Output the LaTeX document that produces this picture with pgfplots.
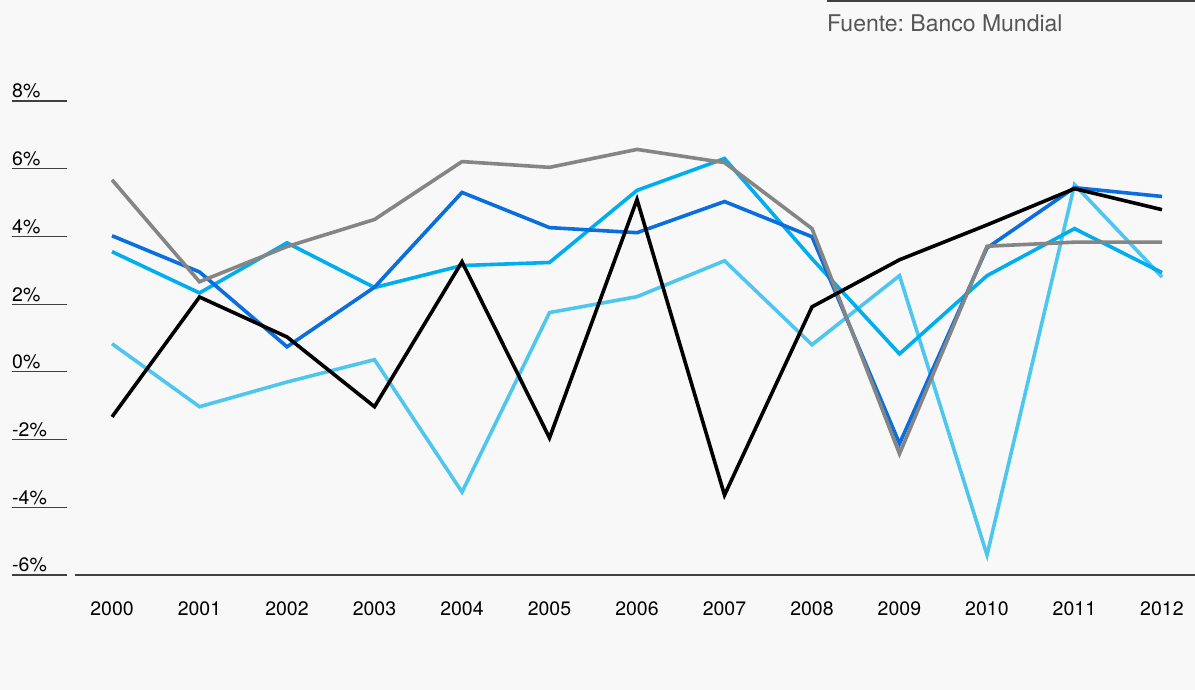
\documentclass[border=0pt]{standalone}
\usepackage{fontspec}
\setmainfont{TeX Gyre Heros}
\usepackage{pgfplots}
\pgfplotsset{compat=1.18}

\definecolor{bgc}{HTML}{F8F8F8}
\definecolor{sgray}{HTML}{858585}
\definecolor{sblue}{HTML}{0A6EDF}
\definecolor{scyan}{HTML}{00AEEF}
\definecolor{slight}{HTML}{4FC6F0}
\definecolor{srcgray}{HTML}{555555}

\begin{document}
\frenchspacing
\begin{tikzpicture}[x=1pt,y=1pt]
\useasboundingbox (0,0) rectangle (1195,690);
\fill[bgc] (0,0) rectangle (1195,690);
% source line
\draw[black!75, line width=1.3pt] (827,689) -- (1195,689);
\node[anchor=base west, inner sep=0pt, text=srcgray, font=\fontsize{23}{27}\selectfont] at (827,658) {Fuente: Banco Mundial};

\begin{axis}[
  at={(75pt,115pt)}, anchor=south west,
  scale only axis,
  width=1120pt, height=474pt,
  xmin=1999.577, xmax=2012.377,
  ymin=-6, ymax=8,
  axis x line*=bottom,
  axis y line*=left,
  y axis line style={draw=none},
  x axis line style={black!75, line width=1.2pt},
  major tick length=0pt,
  xtick={2000,...,2012},
  ytick={-6,-4,...,8},
  yticklabels={-6\%,-4\%,-2\%,0\%,2\%,4\%,6\%,8\%},
  /pgf/number format/1000 sep={},
  /pgf/number format/assume math mode=true,
  tick label style={font=\fontsize{19.5}{23}\selectfont, text=black},
  xticklabel style={anchor=north, inner sep=0pt, yshift=-26pt},
  yticklabel style={anchor=base west, inner sep=0pt, xshift=-63pt, yshift=3pt},
  clip=false,
  every axis plot/.append style={line width=3.6pt, line join=miter, no markers},
]
\pgfplotsinvokeforeach{-6,-4,...,8}{
  \draw[black!75, line width=1.2pt] ([xshift=-63pt]axis cs:1999.577,#1) -- ([xshift=-8pt]axis cs:1999.577,#1);
}
% light sky blue
\addplot[slight] coordinates {(2000,0.83) (2001,-1.03) (2002,-0.3) (2003,0.36) (2004,-3.55) (2005,1.75) (2006,2.22) (2007,3.28) (2008,0.8) (2009,2.84) (2010,-5.41) (2011,5.53) (2012,2.8)};
% cyan
\addplot[scyan] coordinates {(2000,3.55) (2001,2.33) (2002,3.81) (2003,2.49) (2004,3.14) (2005,3.23) (2006,5.36) (2007,6.3) (2008,3.34) (2009,0.53) (2010,2.84) (2011,4.23) (2012,2.93)};
% blue
\addplot[sblue] coordinates {(2000,4.02) (2001,2.95) (2002,0.74) (2003,2.5) (2004,5.3) (2005,4.26) (2006,4.11) (2007,5.03) (2008,3.99) (2009,-2.12) (2010,3.66) (2011,5.44) (2012,5.18)};
% gray
\addplot[sgray] coordinates {(2000,5.67) (2001,2.66) (2002,3.7) (2003,4.5) (2004,6.21) (2005,6.04) (2006,6.57) (2007,6.18) (2008,4.23) (2009,-2.42) (2010,3.71) (2011,3.83) (2012,3.83)};
% black
\addplot[black] coordinates {(2000,-1.33) (2001,2.21) (2002,1.03) (2003,-1.03) (2004,3.25) (2005,-1.95) (2006,5.09) (2007,-3.64) (2008,1.92) (2009,3.31) (2010,4.34) (2011,5.41) (2012,4.79)};
\end{axis}
\end{tikzpicture}
\end{document}
